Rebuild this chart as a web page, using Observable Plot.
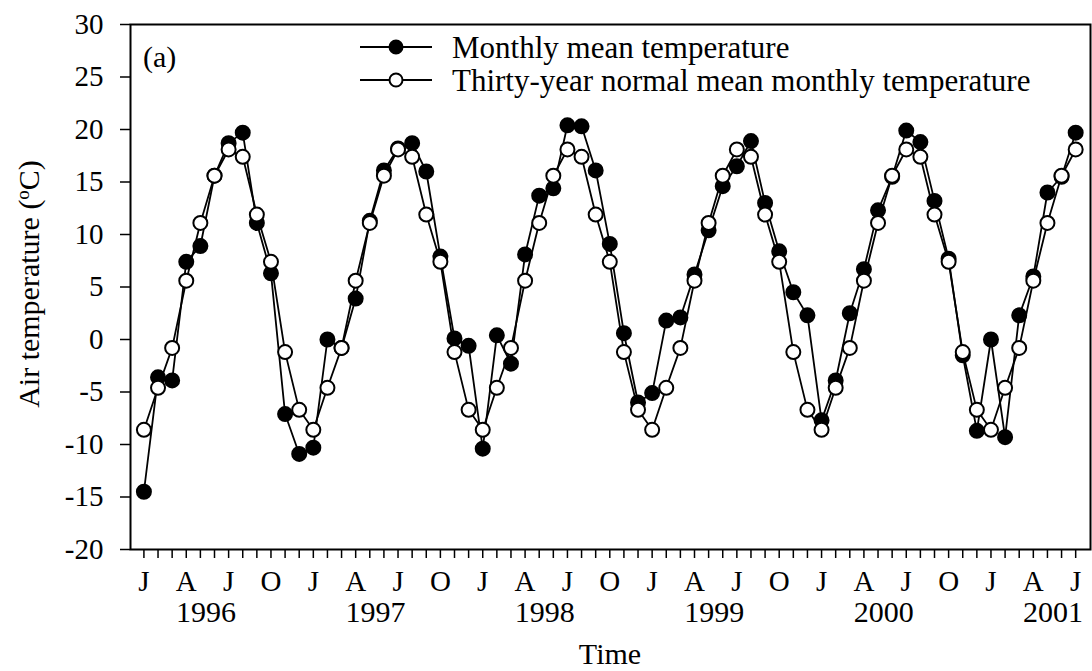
<!DOCTYPE html>
<html><head><meta charset="utf-8">
<script src="https://cdn.jsdelivr.net/npm/d3@7"></script>
<script src="https://cdn.jsdelivr.net/npm/@observablehq/plot@0.6"></script>
<style>body{margin:0;background:#fff;} svg{display:block;}</style>
</head><body><div id="chart"></div>
<script>
// Month letters (Jan..Dec) and years shown under the axis
const monthLetters = ["J","F","M","A","M","J","J","A","S","O","N","D"];
const years = [1996, 1997, 1998, 1999, 2000, 2001];
const seriesNames = ["Monthly mean temperature", "Thirty-year normal mean monthly temperature"];

// Monthly mean temperature (°C), Jan 1996 .. Jul 2001
const monthlyMean = [
  -14.5, -3.6, -3.9, 7.4, 8.9, 15.6, 18.7, 19.7, 11.1, 6.3, -7.1, -10.9,   // 1996
  -10.3, 0.0, -0.8, 3.9, 11.3, 16.1, 18.2, 18.7, 16.0, 7.9, 0.1, -0.6,     // 1997
  -10.4, 0.4, -2.3, 8.1, 13.7, 14.4, 20.4, 20.3, 16.1, 9.1, 0.6, -6.0,     // 1998
  -5.1, 1.8, 2.1, 6.2, 10.4, 14.6, 16.5, 18.9, 13.0, 8.4, 4.5, 2.3,        // 1999
  -7.7, -3.9, 2.5, 6.7, 12.3, 15.5, 19.9, 18.8, 13.2, 7.7, -1.5, -8.7,     // 2000
  0.0, -9.3, 2.3, 6.0, 14.0, 15.5, 19.7                                    // 2001
];

// Thirty-year normal mean monthly temperature (°C), Jan 1996 .. Jul 2001
const normalMean = [
  -8.6, -4.6, -0.8, 5.6, 11.1, 15.6, 18.1, 17.4, 11.9, 7.4, -1.2, -6.7,
  -8.6, -4.6, -0.8, 5.6, 11.1, 15.6, 18.1, 17.4, 11.9, 7.4, -1.2, -6.7,
  -8.6, -4.6, -0.8, 5.6, 11.1, 15.6, 18.1, 17.4, 11.9, 7.4, -1.2, -6.7,
  -8.6, -4.6, -0.8, 5.6, 11.1, 15.6, 18.1, 17.4, 11.9, 7.4, -1.2, -6.7,
  -8.6, -4.6, -0.8, 5.6, 11.1, 15.6, 18.1, 17.4, 11.9, 7.4, -1.2, -6.7,
  -8.6, -4.6, -0.8, 5.6, 11.1, 15.6, 18.1
];

const yTicks = [-20, -15, -10, -5, 0, 5, 10, 15, 20, 25, 30];

const monthlyData = monthlyMean.map((v, i) => ({i, v}));
const normalData = normalMean.map((v, i) => ({i, v}));
const monthIdx = d3.range(monthlyMean.length);
const yearOffset = 4.4;
const yearPos = years.map((y, k) => k * 12 + yearOffset);

const FONT = "'Liberation Serif', 'Times New Roman', serif";

const chart = Plot.plot({
  width: 1092,
  height: 671,
  marginLeft: 130,
  marginRight: 2,
  marginTop: 24,
  marginBottom: 122,
  x: {domain: [-0.95, 67.05], axis: null},
  y: {domain: [-20, 30], axis: null},
  style: {fontFamily: FONT, background: "white", color: "black"},
  marks: [
    Plot.axisY(yTicks, {tickSize: 10, tickPadding: 17, fontSize: 29, strokeWidth: 1.5, label: null,
      tickFormat: d => String(d)}),
    Plot.axisX(monthIdx, {tickSize: 9, tickPadding: 12, fontSize: 29, strokeWidth: 1.5, label: null,
      tickFormat: i => (i % 3 === 0 ? monthLetters[i % 12] : "")}),
    Plot.axisX(yearPos, {tickSize: 0, tickPadding: 51, fontSize: 30, label: null,
      tickFormat: d => String(years[Math.round((d - yearOffset) / 12)])}),
    Plot.line(monthlyData, {x: "i", y: "v", stroke: "black", strokeWidth: 1.8}),
    Plot.dot(monthlyData, {x: "i", y: "v", r: 7, fill: "black", stroke: "black", strokeWidth: 2}),
    Plot.line(normalData, {x: "i", y: "v", stroke: "black", strokeWidth: 1.8}),
    Plot.dot(normalData, {x: "i", y: "v", r: 7, fill: "white", stroke: "black", strokeWidth: 2}),
    Plot.frame({stroke: "black", strokeWidth: 2})
  ]
});
document.getElementById("chart").appendChild(chart);

// Decorations: panel tag, legend, axis titles
const svg = d3.select(chart);
const g = svg.append("g").attr("font-family", FONT).attr("fill", "black");

g.append("text").attr("x", 143).attr("y", 67).attr("text-anchor", "start")
  .attr("font-size", 30).text("(a)");

const legendRows = [{y: 47, fill: "black"}, {y: 80, fill: "white"}];
legendRows.forEach((row, k) => {
  g.append("line").attr("x1", 360).attr("x2", 432).attr("y1", row.y).attr("y2", row.y)
    .attr("stroke", "black").attr("stroke-width", 1.8);
  g.append("circle").attr("cx", 396).attr("cy", row.y).attr("r", 6.5)
    .attr("fill", row.fill).attr("stroke", "black").attr("stroke-width", 2);
  g.append("text").attr("x", 452).attr("y", row.y).attr("dy", "0.35em")
    .attr("text-anchor", "start").attr("font-size", 31).text(seriesNames[k]);
});

const yt = g.append("text").attr("transform", "translate(39,284) rotate(-90)")
  .attr("text-anchor", "middle").attr("font-size", 30);
yt.append("tspan").text("Air temperature (");
yt.append("tspan").attr("baseline-shift", "super").attr("font-size", 19).text("o");
yt.append("tspan").text("C)");

g.append("text").attr("x", 610).attr("y", 664).attr("text-anchor", "middle")
  .attr("font-size", 30).text("Time");
</script>
</body></html>
